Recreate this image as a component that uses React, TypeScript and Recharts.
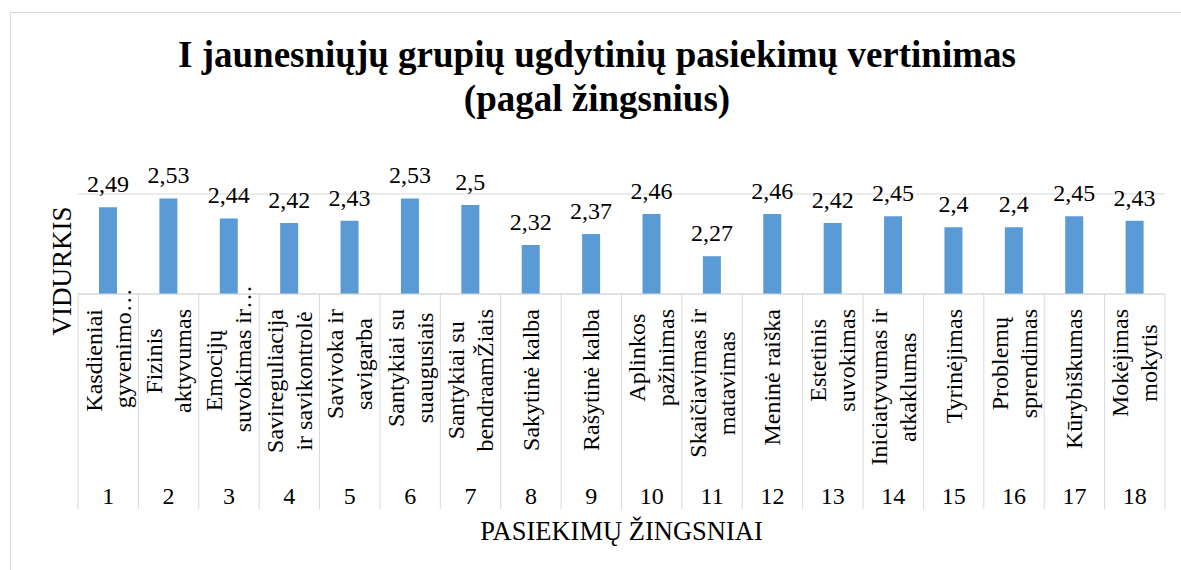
import { Bar, BarChart, CartesianGrid, LabelList, XAxis, YAxis } from "recharts";

const steps = ["1", "2", "3", "4", "5", "6", "7", "8", "9", "10", "11", "12", "13", "14", "15", "16", "17", "18"];

const stepNames: string[][] = [
  ["Kasdieniai", "gyvenimo…"],
  ["Fizinis", "aktyvumas"],
  ["Emocijų", "suvokimas ir…"],
  ["Savireguliacija", "ir savikontrolė"],
  ["Savivoka ir", "savigarba"],
  ["Santykiai su", "suaugusiais"],
  ["Santykiai su", "bendraamŽiais"],
  ["Sakytinė kalba"],
  ["Rašytinė kalba"],
  ["Aplinkos", "pažinimas"],
  ["Skaičiavimas ir", "matavimas"],
  ["Meninė raiška"],
  ["Estetinis", "suvokimas"],
  ["Iniciatyvumas ir", "atkaklumas"],
  ["Tyrinėjimas"],
  ["Problemų", "sprendimas"],
  ["Kūrybiškumas"],
  ["Mokėjimas", "mokytis"],
];

const averages = [2.49, 2.53, 2.44, 2.42, 2.43, 2.53, 2.5, 2.32, 2.37, 2.46, 2.27, 2.46, 2.42, 2.45, 2.4, 2.4, 2.45, 2.43];

const yTicks = [2.1, 2.15, 2.2, 2.25, 2.3, 2.35, 2.4, 2.45, 2.5, 2.55];

const titleLines = ["I jaunesniųjų grupių ugdytinių pasiekimų vertinimas", "(pagal žingsnius)"];
const yTitle = "VIDURKIS";
const xTitle = "PASIEKIMŲ ŽINGSNIAI";

const data = steps.map((step, i) => ({ step, value: averages[i] }));

const FONT = "'Liberation Serif', 'Times New Roman', serif";
const W = 1181;
const H = 570;
const M = { top: 194, right: 16, bottom: 0, left: 78 };
const PLOT_W = W - M.left - M.right;
const BAND = PLOT_W / steps.length;
const LINE_H = 29;
const GRID = "#d9d9d9";

let ctx: CanvasRenderingContext2D | null = null;
function textWidth(s: string): number {
  if (!ctx) {
    ctx = document.createElement("canvas").getContext("2d");
  }
  if (!ctx) return s.length * 11;
  ctx.font = `24px 'Liberation Serif'`;
  return ctx.measureText(s).width;
}

// the ellipsis of a cut label hangs past the top of the label block
const core = (s: string) => s.replace(/…$/, "");

function fmt(v: number): string {
  return String(v).replace(".", ",");
}

interface TickProps {
  x?: number;
  y?: number;
  index?: number;
  payload?: { value?: string };
}

function StepTick({ x = 0, y = 0, index = 0, payload }: TickProps) {
  const lines = stepNames[index] ?? [];
  const maxLen = Math.max(...lines.map((l) => textWidth(core(l))));
  const n = lines.length;
  const left = x - BAND / 2;
  return (
    <g>
      <line x1={left} y1={y} x2={left} y2={y + 215} stroke={GRID} />
      {index === steps.length - 1 && (
        <line x1={x + BAND / 2} y1={y} x2={x + BAND / 2} y2={y + 215} stroke={GRID} />
      )}
      <g transform={`translate(${x}, ${y + 15}) rotate(-90)`}>
        {lines.map((line, i) => (
          <text
            key={i}
            x={-maxLen / 2 - textWidth(core(line)) / 2}
            y={(i - (n - 1) / 2) * LINE_H + 8}
            textAnchor="start"
            fontSize={24}
            fontFamily={FONT}
            fill="#000"
          >
            {line}
          </text>
        ))}
      </g>
      <text x={x} y={y + 210} textAnchor="middle" fontSize={24} fontFamily={FONT} fill="#000">
        {payload?.value}
      </text>
    </g>
  );
}

function ValueLabel(props: any) {
  const { x = 0, y = 0, width = 0, value } = props;
  return (
    <text x={x + width / 2} y={y - 15} textAnchor="middle" fontSize={24} fontFamily={FONT} fill="#000">
      {fmt(Number(value))}
    </text>
  );
}

export default function App() {
  return (
    <div style={{ position: "fixed", left: 0, top: 0, width: W, height: H, background: "#fff" }}>
      <BarChart width={W} height={H} data={data} margin={M}>
        <rect x={10.5} y={12.5} width={W + 20} height={H + 20} fill="none" stroke={GRID} />
        <text x={597} y={67} textAnchor="middle" fontSize={37} fontWeight={700} fontFamily={FONT} fill="#000">
          {titleLines[0]}
        </text>
        <text x={597} y={111} textAnchor="middle" fontSize={37} fontWeight={700} fontFamily={FONT} fill="#000">
          {titleLines[1]}
        </text>
        <text
          transform="translate(71, 271) rotate(-90)"
          textAnchor="middle"
          fontSize={27}
          fontFamily={FONT}
          fill="#000"
        >
          {yTitle}
        </text>
        <text x={621.5} y={540} textAnchor="middle" fontSize={26.5} fontFamily={FONT} fill="#000">
          {xTitle}
        </text>
        <CartesianGrid stroke={GRID} vertical={false} />
        <YAxis
          type="number"
          domain={[2.1, 2.55]}
          ticks={yTicks}
          width={0}
          tick={false}
          axisLine={false}
          tickLine={false}
          allowDataOverflow
        />
        <XAxis
          dataKey="step"
          height={276}
          interval={0}
          tickSize={0}
          tickMargin={0}
          tickLine={false}
          axisLine={{ stroke: GRID }}
          tick={<StepTick />}
        />
        <Bar dataKey="value" fill="#5B9BD5" barSize={18} isAnimationActive={false}>
          <LabelList dataKey="value" content={<ValueLabel />} />
        </Bar>
      </BarChart>
    </div>
  );
}
